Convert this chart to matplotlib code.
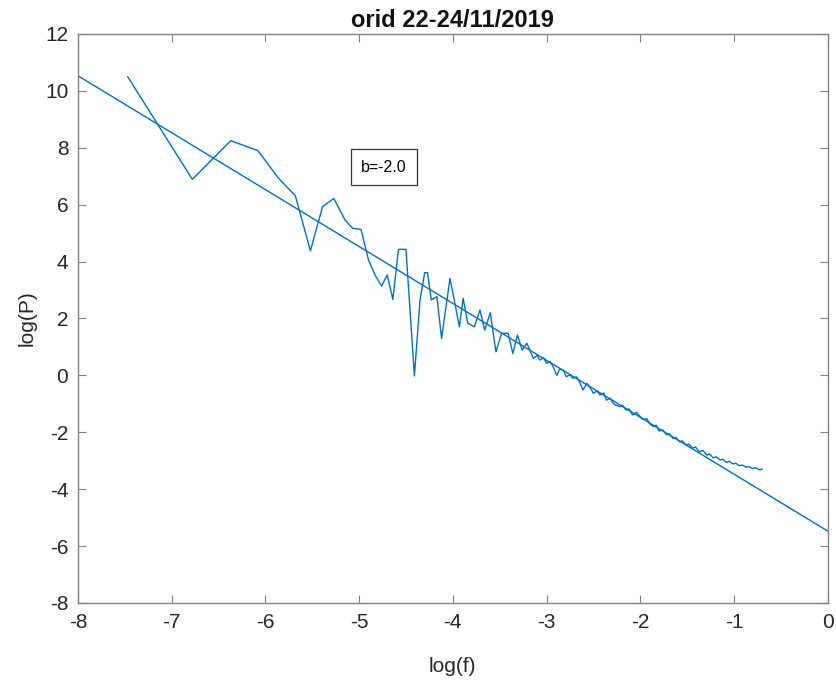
import matplotlib
matplotlib.use('Agg')
import matplotlib.pyplot as plt
import numpy as np

# log(f) / log(P) values
logf = [-7.47, -6.78, -6.37, -6.08, -5.86, -5.68, -5.52, -5.39, -5.27, -5.15,
        -5.07, -4.98, -4.90, -4.83, -4.76, -4.70, -4.64, -4.58, -4.50, -4.41,
        -4.35, -4.30, -4.27, -4.23, -4.17, -4.12, -4.03, -3.93, -3.89, -3.84,
        -3.77, -3.71, -3.66, -3.60, -3.54, -3.48, -3.41, -3.36, -3.31, -3.26,
        -3.21, -3.14, -3.10, -3.07, -3.03, -3.00, -2.96, -2.93, -2.89, -2.86,
        -2.82, -2.79, -2.75, -2.72, -2.68, -2.65, -2.61, -2.57, -2.54, -2.50,
        -2.46, -2.43, -2.39, -2.36, -2.32, -2.29, -2.26, -2.22, -2.19, -2.15,
        -2.12, -2.08, -2.04, -2.00, -1.97, -1.93, -1.90, -1.86, -1.83, -1.80,
        -1.76, -1.72, -1.69, -1.65, -1.62, -1.58, -1.55, -1.51, -1.48, -1.44,
        -1.41, -1.37, -1.33, -1.29, -1.26, -1.22, -1.19, -1.15, -1.12, -1.08,
        -1.05, -1.01, -0.98, -0.94, -0.91, -0.87, -0.84, -0.80, -0.77, -0.73,
        -0.70]
logP = [10.50, 6.89, 8.25, 7.90, 6.93, 6.31, 4.38, 5.93, 6.22, 5.46,
        5.17, 5.13, 4.06, 3.53, 3.14, 3.53, 2.67, 4.43, 4.43, -0.02,
        2.65, 3.61, 3.61, 2.65, 2.77, 1.30, 3.41, 1.71, 2.71, 1.83,
        1.71, 2.30, 1.59, 2.20, 0.83, 1.48, 1.48, 0.77, 1.42, 0.89,
        1.13, 0.60, 0.70, 0.54, 0.62, 0.42, 0.48, 0.31, 0.00, 0.22,
        0.19, -0.05, 0.02, -0.10, -0.05, -0.22, -0.51, -0.28, -0.40, -0.63,
        -0.55, -0.69, -0.62, -0.87, -0.80, -0.98, -1.04, -1.10, -1.05, -1.22,
        -1.18, -1.39, -1.30, -1.45, -1.55, -1.52, -1.70, -1.80, -1.75, -1.95,
        -1.92, -2.09, -2.05, -2.22, -2.18, -2.33, -2.30, -2.45, -2.42, -2.56,
        -2.52, -2.68, -2.64, -2.80, -2.76, -2.90, -2.86, -2.97, -2.95, -3.06,
        -3.02, -3.11, -3.09, -3.18, -3.15, -3.23, -3.20, -3.28, -3.24, -3.32,
        -3.30]

# linear fit shown in the reference: slope b=-2.0
fit_x = [-8.0, 0.0]
fit_b = -2.0
fit_a = -5.47

plt.rcParams['font.family'] = ['Liberation Sans', 'DejaVu Sans']
plt.rcParams['axes.unicode_minus'] = False

fig = plt.figure(figsize=(8.37, 6.91), dpi=100)
ax = fig.add_axes([0.0932, 0.1274, 0.8956, 0.8234])

col = '#0072BD'
ax.plot(logf, logP, color=col, lw=1.0)
fit_y = [fit_a + fit_b * v for v in fit_x]
ax.plot(fit_x, fit_y, color=col, lw=1.0)

ax.set_xlim(-8, 0)
ax.set_ylim(-8, 12)
ax.set_xticks(np.arange(-8, 1, 1))
ax.set_yticks(np.arange(-8, 13, 2))

for s in ax.spines.values():
    s.set_color('#808080')
    s.set_linewidth(1.0)
ax.tick_params(direction='in', length=6, width=0.8, color='#808080',
               labelsize=15, labelcolor='#262626', top=True, right=True, pad=7)

ax.set_xlabel('log(f)', fontsize=15, color='#262626', labelpad=18)
ax.set_ylabel('log(P)', fontsize=15, color='#262626', labelpad=6)
ax.set_title('orid 22-24/11/2019', fontsize=17, fontweight='bold',
             color='#111111', pad=5)

ax.text(-4.736, 7.32, 'b=-2.0', fontsize=11.5, ha='center', va='center',
        bbox=dict(boxstyle='square,pad=0.65', fc='white', ec='#333333', lw=0.9))

fig.savefig('out.png', dpi=100)
